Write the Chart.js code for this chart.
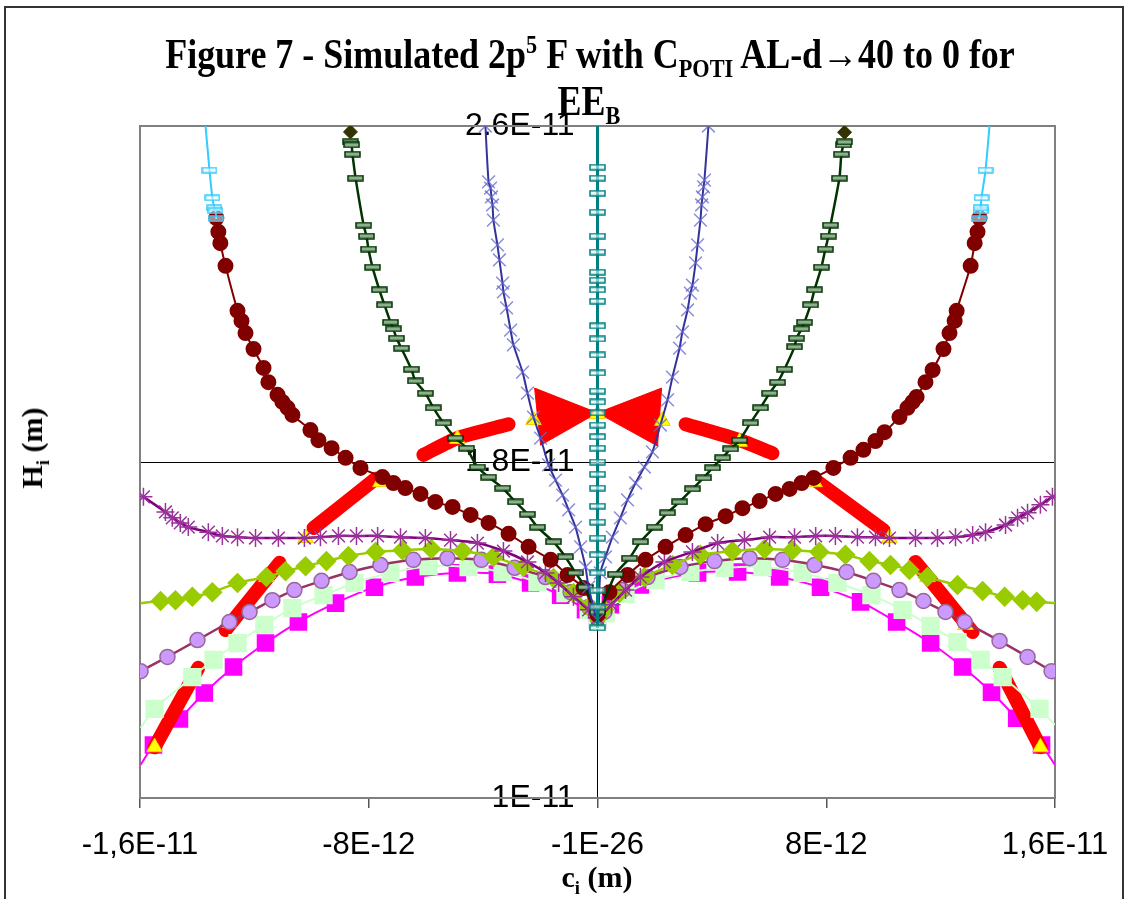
<!DOCTYPE html>
<html>
<head>
<meta charset="utf-8">
<script src="https://cdn.jsdelivr.net/npm/chart.js@4.4.0/dist/chart.umd.min.js"></script>
<style>
  body { margin: 0; background: #fff; }
  #wrap { position: relative; width: 1132px; height: 899px; overflow: hidden; }
  #frame { position: absolute; left: 4px; top: 6px; width: 1120px; height: 910px; border: 2px solid #333; box-sizing: border-box; }
  canvas { position: absolute; left: 0; top: 0; }
  .txt { position: absolute; font-family: 'Liberation Serif', 'Times New Roman', serif; font-weight: bold; color: #000; white-space: nowrap; line-height: 1; transform-origin: 50% 50%; }
  .txt sub, .txt sup { font-size: 0.62em; line-height: 0; }
  #title1 { left: 590px; top: 33px; font-size: 42px; }
  #title2 { left: 589px; top: 80px; font-size: 42px; }
  #xTitle { left: 597px; top: 862px; font-size: 30px; }
  #yTitle { left: 32px; top: 448px; font-size: 30px; }
</style>
</head>
<body>
<div id="wrap">
  <div id="frame"></div>
  <canvas id="chart" width="1132" height="899"></canvas>
  <div class="txt" id="title1">Figure 7 - Simulated 2p<sup>5</sup> F with C<sub>POTI</sub> AL-d→40 to 0 for</div>
  <div class="txt" id="title2">EE<sub>B</sub></div>
  <div class="txt" id="xTitle">c<sub>i</sub> (m)</div>
  <div class="txt" id="yTitle">H<sub>i</sub> (m)</div>
</div>
<script>
'use strict'

// ---------------- Data (values in units of 1E-12 m) ----------------
var xTickLabels = ['-1,6E-11', '-8E-12', '-1E-26', '8E-12', '1,6E-11'];
var yTickLabels = ['1E-11', '1.8E-11', '2.6E-11'];

// light blue dashes, top corners
var cyanLeftX = [-13.76, -13.57, -13.47, -13.40, -13.36, -13.33];
var cyanLeftY = [26.4, 24.95, 24.29, 24.05, 23.98, 23.79];
var cyanRightX = [13.33, 13.40, 13.40, 13.43, 13.57, 13.76];
var cyanRightY = [23.79, 23.98, 24.05, 24.29, 24.95, 26.4];

// dark red circles
var darkRedX = [-13.33, -13.26, -13.19, -13.01, -12.59, -12.45, -12.31, -12.03, -11.68, -11.51, -11.19, -11.02, -10.84, -10.67, -10.04, -9.76, -9.30, -8.81, -8.29, -7.52, -7.14, -6.72, -6.19, -5.67, -5.07, -4.44, -3.81, -3.11, -2.41, -1.64, -1.05, -0.49,
  0,
  0.42, 1.05, 1.68, 2.38, 3.08, 3.78, 4.48, 5.07, 5.67, 6.23, 6.72, 7.14, 7.56, 8.25, 8.85, 9.30, 9.72, 10.04, 10.56, 10.84, 11.02, 11.16, 11.47, 11.72, 12.10, 12.31, 12.49, 12.56, 13.05, 13.19, 13.29, 13.36];
var darkRedY = [23.81, 23.48, 23.21, 22.67, 21.60, 21.36, 21.07, 20.69, 20.24, 19.90, 19.60, 19.43, 19.29, 19.12, 18.76, 18.52, 18.33, 18.10, 17.86, 17.64, 17.50, 17.38, 17.24, 17.05, 16.93, 16.74, 16.55, 16.29, 15.98, 15.67, 15.31, 15.00,
  14.36,
  14.90, 15.31, 15.67, 15.98, 16.26, 16.52, 16.71, 16.90, 17.07, 17.24, 17.36, 17.50, 17.62, 17.86, 18.10, 18.29, 18.50, 18.71, 19.07, 19.29, 19.43, 19.55, 19.90, 20.19, 20.69, 21.07, 21.36, 21.60, 22.67, 23.21, 23.48, 23.81];

// dark green dashes
var greenX = [-8.64, -8.60, -8.57, -8.46, -8.18, -8.08, -8.01, -7.87, -7.63, -7.45, -7.24, -7.14, -7.03, -6.86, -6.51, -6.37, -6.02, -5.74, -5.39, -4.97, -4.58, -4.20, -3.81, -3.32, -2.87, -2.45, -2.10, -1.54, -1.12, -0.77, -0.42,
  0,
  0.63, 1.12, 1.50, 1.99, 2.45, 2.87, 3.32, 3.71, 4.02, 4.37, 4.65, 4.97, 5.35, 5.70, 6.02, 6.30, 6.54, 6.89, 6.96, 7.14, 7.24, 7.45, 7.59, 7.83, 7.97, 8.08, 8.15, 8.46, 8.53, 8.60, 8.64];
var greenY = [25.62, 25.55, 25.33, 24.76, 23.64, 23.38, 23.07, 22.64, 22.10, 21.74, 21.33, 21.17, 20.95, 20.71, 20.21, 19.93, 19.64, 19.29, 18.93, 18.57, 18.33, 17.88, 17.64, 17.38, 17.05, 16.76, 16.45, 16.10, 15.74, 15.36, 15.02,
  14.43,
  15.33, 15.71, 16.10, 16.45, 16.79, 17.05, 17.36, 17.62, 17.86, 18.10, 18.31, 18.52, 18.93, 19.29, 19.64, 19.90, 20.21, 20.74, 20.95, 21.17, 21.33, 21.74, 22.10, 22.64, 23.07, 23.38, 23.64, 24.76, 25.33, 25.55, 25.62];
var greenTopX = [-8.64, 8.64];
var greenTopY = [25.86, 25.85];

// blue crosses
var blueX = [-3.92, -3.81, -3.74, -3.71, -3.67, -3.64, -3.50, -3.43, -3.32, -3.29, -3.18, -3.04, -2.94, -2.62, -2.45, -2.24, -1.99, -1.71, -1.47, -1.22, -1.01, -0.77, -0.59, -0.42, -0.31,
  0,
  0.10, 0.28, 0.52, 0.80, 1.05, 1.33, 1.64, 1.92, 2.20, 2.45, 2.62, 2.87, 2.97, 3.15, 3.25, 3.32, 3.43, 3.50, 3.60, 3.64, 3.67, 3.71, 3.74, 3.88];
var blueY = [26.0, 24.67, 24.52, 24.31, 24.12, 23.76, 23.17, 22.81, 22.26, 22.05, 21.67, 21.14, 20.79, 20.14, 19.64, 19.07, 18.57, 17.93, 17.57, 17.21, 16.86, 16.45, 15.98, 15.50, 15.02,
  14.24,
  15.36, 15.74, 16.21, 16.67, 17.10, 17.50, 17.88, 18.24, 18.88, 19.48, 20.02, 20.71, 21.10, 21.62, 22.02, 22.21, 22.74, 23.17, 23.76, 24.12, 24.31, 24.55, 24.71, 26.0];

// teal dashes on the vertical axis
var tealX = [0, 0, 0, 0, 0, 0, 0, 0, 0, 0, 0, 0, 0, 0, 0, 0, 0, 0, 0, 0, 0, 0, 0, 0, 0, 0, 0, 0, 0, 0, 0, 0];
var tealY = [26.3, 25.02, 24.76, 24.40, 23.95, 23.38, 23.00, 22.52, 22.33, 22.10, 21.83, 21.24, 20.93, 20.55, 20.12, 19.69, 19.43, 19.17, 18.88, 18.60, 18.33, 18.00, 17.71, 17.38, 16.95, 16.57, 16.19, 15.79, 15.36, 14.95, 14.55, 14.05];

// purple asterisks
var purpleX = [-15.88, -15.11, -14.87, -14.59, -14.31, -13.61, -13.12, -12.59, -11.96, -11.16, -10.25, -9.69, -9.06, -8.43, -7.69, -6.89, -6.02, -5.14, -4.20, -3.29, -2.45, -1.82, -1.36, -0.84, -0.31,
  0,
  0.49, 0.98, 1.50, 2.34, 3.32, 4.20, 5.14, 6.02, 6.89, 7.63, 8.32, 9.09, 9.72, 10.21, 11.12, 11.89, 12.52, 13.12, 13.57, 14.27, 14.69, 15.04, 15.49, 15.91];
var purpleY = [17.17, 16.81, 16.67, 16.55, 16.45, 16.33, 16.24, 16.21, 16.19, 16.19, 16.19, 16.21, 16.24, 16.24, 16.24, 16.21, 16.19, 16.14, 16.07, 15.88, 15.62, 15.36, 15.12, 14.79, 14.48,
  14.29,
  14.60, 14.95, 15.26, 15.62, 15.86, 16.07, 16.14, 16.21, 16.21, 16.24, 16.24, 16.21, 16.21, 16.19, 16.19, 16.19, 16.21, 16.26, 16.33, 16.50, 16.67, 16.79, 16.98, 17.17];

// yellow-green diamonds
var diamondX = [-15.98, -15.28, -14.76, -14.17, -13.47, -12.59, -11.58, -10.91, -10.21, -9.48, -8.71, -7.76, -6.82, -5.81, -4.72, -3.64, -2.59, -1.54, -0.84, -0.31,
  0,
  0.24, 0.77, 1.64, 2.62, 3.60, 4.72, 5.84, 6.82, 7.76, 8.67, 9.51, 10.25, 10.91, 11.54, 12.59, 13.47, 14.24, 14.87, 15.36, 16.0];
var diamondY = [14.64, 14.69, 14.71, 14.79, 14.90, 15.12, 15.26, 15.40, 15.52, 15.64, 15.76, 15.86, 15.90, 15.93, 15.88, 15.74, 15.50, 15.24, 14.88, 14.55,
  14.29,
  14.48, 14.88, 15.26, 15.55, 15.79, 15.88, 15.93, 15.90, 15.86, 15.79, 15.64, 15.55, 15.43, 15.26, 15.07, 14.93, 14.79, 14.71, 14.67, 14.64];

// lavender circles
var lavX = [-15.98, -15.04, -13.99, -12.87, -12.17, -11.37, -10.60, -9.65, -8.67, -7.59, -6.44, -5.25, -4.06, -2.90, -1.82, -0.94, -0.31,
  0,
  0.24, 0.87, 1.75, 2.90, 4.09, 5.32, 6.47, 7.59, 8.71, 9.65, 10.56, 11.40, 12.17, 12.84, 14.06, 15.04, 15.88];
var lavY = [13.02, 13.36, 13.76, 14.19, 14.43, 14.71, 14.95, 15.17, 15.38, 15.55, 15.67, 15.71, 15.67, 15.48, 15.26, 14.90, 14.55,
  14.29,
  14.43, 14.95, 15.26, 15.50, 15.64, 15.71, 15.67, 15.55, 15.38, 15.17, 14.95, 14.69, 14.43, 14.19, 13.74, 13.36, 13.02];

// light green squares
var lightGreenX = [-15.98, -15.49, -14.17, -13.43, -12.59, -11.65, -10.67, -9.58, -8.50, -7.24, -5.91, -4.51, -3.32, -2.10, -1.12, -0.31,
  0,
  0.28, 0.98, 2.03, 3.25, 4.44, 5.77, 7.17, 8.39, 9.58, 10.67, 11.65, 12.59, 13.40, 14.17, 15.46, 16.0];
var lightGreenY = [11.67, 12.12, 12.88, 13.29, 13.69, 14.12, 14.52, 14.83, 15.12, 15.36, 15.52, 15.50, 15.38, 15.14, 14.88, 14.48,
  14.24,
  14.40, 14.86, 15.19, 15.38, 15.48, 15.50, 15.36, 15.12, 14.83, 14.48, 14.10, 13.71, 13.29, 12.88, 12.12, 11.74];

// magenta squares
var magentaX = [-15.98, -15.53, -14.62, -13.75, -12.73, -11.61, -10.46, -9.16, -7.80, -6.37, -4.90, -3.50, -2.34, -1.29, -0.42,
  0,
  0.45, 1.50, 3.50, 4.90, 6.37, 7.80, 9.20, 10.46, 11.65, 12.77, 13.78, 14.66, 15.53, 16.0];
var magentaY = [10.79, 11.26, 11.88, 12.50, 13.12, 13.69, 14.19, 14.64, 15.02, 15.26, 15.36, 15.33, 15.12, 14.83, 14.48,
  14.24,
  14.60, 15.07, 15.36, 15.38, 15.26, 15.02, 14.67, 14.19, 13.69, 13.12, 12.52, 11.90, 11.26, 10.79];

// thick red pieces (null = break) and the filled bow tie in the middle
var redX = [-15.49, -13.96, null, -13.01, -11.12, null, -9.93, -7.76, null, -6.09, -4.90, -3.11, null, 3.08, 4.97, 6.12, null, 7.62, 10.00, null, 11.12, 13.12, null, 14.06, 15.49];
var redY = [11.21, 13.10, null, 14.00, 15.60, null, 16.43, 17.60, null, 18.17, 18.57, 18.90, null, 18.90, 18.52, 18.21, null, 17.57, 16.38, null, 15.62, 13.95, null, 13.10, 11.21];
var bowX = [-2.20, 0, 2.24, 2.10, 0, -1.99, -2.20];
var bowY = [19.76, 19.17, 19.76, 18.38, 19.17, 18.40, 19.76];

// yellow triangles
var triX = [-15.49, -12.91, -11.58, -10.21, -7.59, -4.90, -2.24, 0, 2.27, 4.97, 7.59, 10.21, 11.54, 12.87, 15.49];
var triY = [11.21, 14.17, 15.26, 16.19, 17.52, 18.55, 19.00, 19.14, 18.98, 18.48, 17.52, 16.19, 15.26, 14.12, 11.21];

//---------------- helpers ----------------
function pts(xs, ys) {
  return xs.map(function(x, i) { return {x: x, y: ys[i]}; });
}

// small flat rectangle marker
function dashMarker(w, h, stroke, fill) {
  var c = document.createElement('canvas');
  c.width = w + 2;
  c.height = h + 2;
  var g = c.getContext('2d');
  g.fillStyle = fill;
  g.strokeStyle = stroke;
  g.lineWidth = 1.5;
  g.fillRect(1, 1, w, h);
  g.strokeRect(1, 1, w, h);
  return c;
}

// no marker on the first / last point (where the line leaves the plot)
function noEnds(r) {
  return function(ctx) {
    var n = ctx.dataset.data.length;
    return (ctx.dataIndex === 0 || ctx.dataIndex === n - 1) ? 0 : r;
  };
}

var cyanDash = dashMarker(14, 5, '#33CCFF', 'rgba(255,255,255,0.5)');
var greenDash = dashMarker(15, 5, '#003300', '#8FB08F');
var tealDash = dashMarker(15, 5, '#008080', 'rgba(220,245,245,0.6)');

function lineSet(data, color, width, extra) {
  var ds = {
    data: data,
    showLine: true,
    borderColor: color,
    borderWidth: width,
    tension: 0.25,
    pointBackgroundColor: color,
    pointBorderColor: color
  };
  for (var k in extra) ds[k] = extra[k];
  return ds;
}

//---------------- plot frame ----------------
var plotBorder = {
  id: 'plotBorder',
  beforeDatasetsDraw: function(chart) {
    var a = chart.chartArea;
    var ctx = chart.ctx;
    ctx.save();
    ctx.strokeStyle = '#808080';
    ctx.lineWidth = 2;
    ctx.strokeRect(a.left, a.top, a.right - a.left, a.bottom - a.top);
    ctx.restore();
  }
};

//---------------- chart ----------------
var datasets = [
  lineSet(pts(tealX, tealY), '#008080', 3, {tension: 0, pointStyle: tealDash}),
  lineSet(pts(blueX, blueY), '#333399', 2, {pointStyle: 'crossRot', pointRadius: 9, pointBorderWidth: 1.5, pointBorderColor: 'rgba(102,102,204,0.75)'}),
  lineSet(pts(greenTopX, greenTopY), '#333300', 1, {showLine: false, pointStyle: 'rectRot', pointRadius: 7}),
  lineSet(pts(greenX, greenY), '#003300', 2.5, {pointStyle: greenDash}),
  lineSet(pts(cyanLeftX, cyanLeftY), '#33CCFF', 2, {pointStyle: cyanDash}),
  lineSet(pts(cyanRightX, cyanRightY), '#33CCFF', 2, {pointStyle: cyanDash}),
  lineSet(pts(darkRedX, darkRedY), '#800000', 2, {pointStyle: 'circle', pointRadius: 7}),
  lineSet(pts(purpleX, purpleY), '#800080', 2.5, {pointStyle: 'star', pointRadius: 9, pointBorderWidth: 1.5, pointBorderColor: '#993399'}),
  lineSet(pts(diamondX, diamondY), '#99CC00', 2.5, {pointStyle: 'rectRot', pointRadius: noEnds(8.5)}),
  lineSet(pts(lavX, lavY), '#993366', 2.5, {pointStyle: 'circle', pointRadius: 7.5, pointBackgroundColor: '#CC99FF', pointBorderColor: '#996699', pointBorderWidth: 1.5}),
  lineSet(pts(lightGreenX, lightGreenY), '#CCFFCC', 2, {pointStyle: 'rect', pointRadius: noEnds(11.5)}),
  lineSet(pts(triX, triY), '#FFFF00', 1, {showLine: false, pointStyle: 'triangle', pointRadius: 9, pointBorderColor: '#F0D000'}),
  lineSet(pts(redX, redY), '#FF0000', 14, {pointRadius: 0, borderCapStyle: 'round', borderJoinStyle: 'round', tension: 0.2, spanGaps: false}),
  lineSet(pts(bowX, bowY), '#FF0000', 1, {pointRadius: 0, tension: 0, fill: 'shape', backgroundColor: '#FF0000'}),
  lineSet(pts(magentaX, magentaY), '#FF00FF', 2, {pointStyle: 'rect', pointRadius: noEnds(11)})
];

var tickFont = { family: "'Liberation Sans', Arial, sans-serif", size: 32 };

var chart = new Chart(document.getElementById('chart').getContext('2d'), {
  type: 'scatter',
  data: { datasets: datasets },
  options: {
    responsive: false,
    animation: false,
    layout: { padding: { left: 140, right: 77, top: 126, bottom: 0 } },
    plugins: {
      legend: { display: false },
      tooltip: { enabled: false }
    },
    scales: {
      x: {
        type: 'linear',
        position: 'bottom',
        min: -16,
        max: 16,
        afterFit: function(s) { s.height = 101; },
        ticks: {
          stepSize: 8,
          autoSkip: false,
          maxRotation: 0,
          padding: 19,
          color: '#000',
          font: { family: "'Liberation Sans', Arial, sans-serif", size: 31 },
          callback: function(v, i) { return xTickLabels[i]; }
        },
        grid: { drawOnChartArea: false, tickLength: 10, color: '#555', lineWidth: 1.5 },
        border: { color: '#666', width: 2 }
      },
      // value axis through x = 0: line, tick marks and the 1.8E-11 gridline
      y: {
        type: 'linear',
        position: { x: 0 },
        min: 10,
        max: 26,
        ticks: { stepSize: 8, display: false },
        grid: {
          tickLength: 8,
          tickColor: '#000',
          lineWidth: 1,
          color: function(ctx) { return ctx.tick && ctx.tick.value === 18 ? '#000' : 'rgba(0,0,0,0)'; }
        },
        border: { color: '#000', width: 1 }
      },
      // same range, only carries the labels a bit left of the axis
      yLabels: {
        type: 'linear',
        axis: 'y',
        position: { x: -0.8 },
        min: 10,
        max: 26,
        ticks: {
          stepSize: 8,
          autoSkip: false,
          padding: 0,
          color: '#000',
          font: tickFont,
          callback: function(v, i) { return yTickLabels[i]; }
        },
        grid: { display: false },
        border: { display: false }
      }
    }
  },
  plugins: [plotBorder]
});

//---------------- titles (squeezed like the original) ----------------
function place(id, width) {
  var el = document.getElementById(id);
  var s = width ? width / el.offsetWidth : 1;
  el.style.transform = 'translateX(-50%) scaleX(' + s + ')';
  return s;
}
var sx = place('title1', 850);
document.getElementById('title2').style.transform = 'translateX(-50%) scaleX(' + sx + ')';
place('xTitle', 0);
document.getElementById('yTitle').style.transform = 'translate(-50%, -50%) rotate(-90deg)';
</script>
</body>
</html>
